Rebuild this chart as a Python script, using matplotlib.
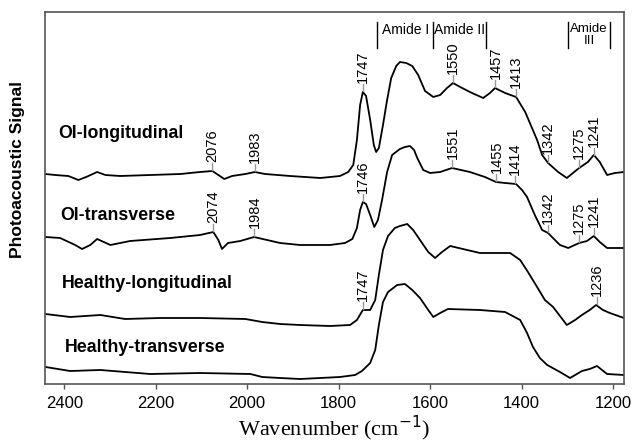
import numpy as np
import matplotlib
matplotlib.use("Agg")
import matplotlib.pyplot as plt

plt.rcParams['font.family'] = ['Liberation Sans', 'DejaVu Sans']

# photoacoustic spectra (arbitrary offset units)
wn_oi_long = [2441, 2420, 2391, 2369, 2352, 2328, 2310, 2278, 2212, 2146, 2103, 2076,
              2063, 2050, 2033, 2004, 1983, 1961, 1906, 1840, 1797, 1779, 1768, 1760,
              1753, 1747, 1740, 1731, 1723, 1718, 1712, 1703, 1694, 1685, 1674, 1666,
              1652, 1639, 1626, 1611, 1593, 1578, 1563, 1550, 1534, 1513, 1484, 1469,
              1458, 1436, 1412, 1392, 1366, 1355, 1342, 1320, 1301, 1285, 1274, 1255,
              1242, 1229, 1213, 1196, 1176]
oi_long = [210, 209, 208, 204, 207, 212, 209, 208, 209, 210, 212, 213,
           209, 205, 208, 210, 212, 210, 208, 206, 208, 212, 219, 244,
           279, 292, 288, 264, 239, 232, 236, 259, 284, 306, 318, 322,
           321, 318, 309, 293, 287, 289, 296, 301, 297, 292, 286, 291,
           296, 291, 287, 272, 244, 229, 221, 212, 206, 212, 216, 222,
           229, 222, 209, 211, 212]

wn_oi_trans = [2441, 2409, 2376, 2361, 2343, 2328, 2299, 2256, 2168, 2103, 2074, 2063,
               2055, 2042, 2015, 1985, 1928, 1884, 1819, 1786, 1770, 1760, 1753, 1747,
               1740, 1731, 1722, 1714, 1705, 1694, 1683, 1666, 1655, 1644, 1635, 1628,
               1615, 1600, 1578, 1552, 1513, 1480, 1456, 1436, 1412, 1399, 1388, 1371,
               1355, 1342, 1327, 1316, 1298, 1274, 1257, 1242, 1229, 1213, 1176]
oi_trans = [147, 146, 139, 135, 139, 145, 139, 143, 146, 149, 152, 144,
            135, 141, 143, 147, 141, 139, 139, 141, 145, 156, 174, 182,
            180, 169, 157, 164, 184, 212, 229, 235, 237, 238, 234, 226,
            214, 211, 212, 216, 212, 207, 202, 201, 200, 194, 187, 169,
            154, 151, 144, 139, 136, 141, 143, 148, 142, 136, 136]

wn_h_long = [2441, 2387, 2354, 2321, 2267, 2190, 2103, 2004, 1967, 1928, 1884, 1819,
             1775, 1760, 1747, 1731, 1720, 1712, 1703, 1692, 1677, 1666, 1650, 1637,
             1622, 1604, 1589, 1574, 1556, 1519, 1491, 1462, 1425, 1403, 1386, 1366,
             1349, 1331, 1316, 1301, 1283, 1268, 1251, 1237, 1222, 1207, 1176]
h_long = [70, 67, 68, 69, 65, 66, 66, 65, 62, 60, 59, 58,
          59, 64, 74, 74, 84, 109, 134, 148, 156, 158, 160, 154,
          144, 132, 126, 132, 138, 134, 131, 131, 131, 124, 112, 97,
          84, 77, 68, 59, 64, 69, 74, 79, 74, 71, 66]

wn_h_trans = [2441, 2387, 2321, 2212, 2103, 1993, 1967, 1928, 1884, 1797, 1764, 1749,
              1731, 1720, 1712, 1703, 1692, 1672, 1655, 1639, 1622, 1604, 1593, 1578,
              1561, 1491, 1436, 1403, 1388, 1375, 1360, 1344, 1316, 1294, 1268, 1251,
              1235, 1213, 1176]
h_trans = [17, 13, 14, 10, 11, 10, 7, 6, 5, 7, 9, 13,
           21, 34, 59, 82, 92, 99, 100, 94, 86, 74, 67, 71,
           75, 74, 72, 64, 51, 37, 26, 19, 12, 6, 13, 15,
           18, 10, 9]

series_names = ['OI-longitudinal', 'OI-transverse', 'Healthy-longitudinal', 'Healthy-transverse']
series_x = [wn_oi_long, wn_oi_trans, wn_h_long, wn_h_trans]
series_y = [oi_long, oi_trans, h_long, h_trans]
name_pos = [(2413, 251), (2409, 169), (2406, 100), (2398, 36)]

# peak labels per series
peaks = [
    [2076, 1983, 1747, 1550, 1457, 1413, 1342, 1275, 1241],
    [2074, 1984, 1746, 1551, 1455, 1414, 1342, 1275, 1241],
    [1747, 1236],
    [],
]

amide_bars = [1716, 1593, 1478, 1298, 1207]
amide_text = [('Amide I', 1654, 354, 10), ('Amide II', 1535, 354, 10), ('Amide\nIII', 1252, 349, 9.5)]

fig = plt.figure(figsize=(6.36, 4.45), dpi=100)
ax = fig.add_axes([45 / 636, 61 / 445, 579 / 636, 372 / 445])

for xs, ys in zip(series_x, series_y):
    ax.plot(xs, ys, color='black', lw=1.3)

for (x, y), name in zip(name_pos, series_names):
    ax.text(x, y, name, fontsize=12.8, fontweight='bold', ha='left', va='center')

for xs, ys, pk in zip(series_x, series_y, peaks):
    xs_r = np.array(xs)[::-1]
    ys_r = np.array(ys)[::-1]
    for p in pk:
        y0 = np.interp(p, xs_r, ys_r)
        ax.plot([p, p], [y0 + 1, y0 + 8], color='#999999', lw=1)
        ax.text(p, y0 + 9, str(p), rotation=90, ha='center', va='bottom', fontsize=10.5)

for b in amide_bars:
    ax.plot([b, b], [336, 362], color='black', lw=1)
for t, x, y, fs in amide_text:
    ax.text(x, y, t, ha='center', va='center', fontsize=fs, linespacing=0.95)

ax.set_xlim(2442, 1176)
ax.set_ylim(0, 372)
ax.set_yticks([])
ax.set_xticks([2400, 2200, 2000, 1800, 1600, 1400, 1200])
ax.tick_params(axis='x', direction='out', length=3.5, width=1, pad=5, labelsize=12, color='#555555')
for sp in ax.spines.values():
    sp.set_color('#555555')
    sp.set_linewidth(1.2)

fig.text(334 / 636, 1 - 436 / 445, 'Wavenumber (cm$^{-1}$)', family='Liberation Serif',
         fontsize=16, ha='center', va='baseline')
fig.text(18 / 636, 1 - 169 / 445, 'Photoacoustic Signal', rotation=90, fontsize=12.5,
         fontweight='bold', ha='center', va='center')

fig.savefig('out.png', dpi=100)
